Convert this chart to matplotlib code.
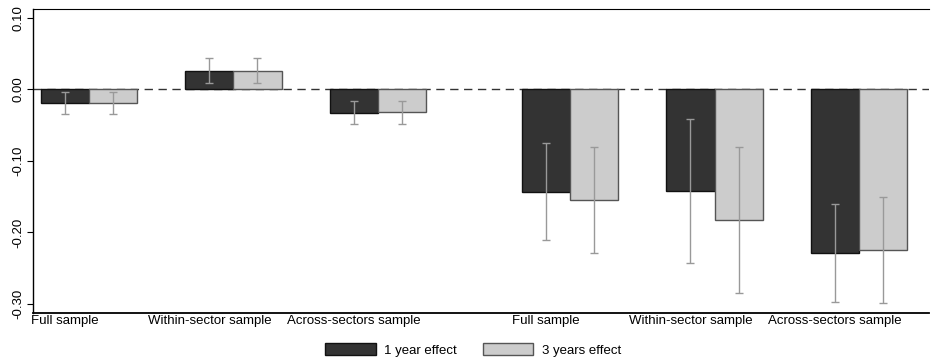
import numpy as np
import matplotlib.pyplot as plt

plt.rcParams['font.family'] = ['Liberation Sans', 'DejaVu Sans']

# Data
samples = ['Full sample', 'Within-sector sample', 'Across-sectors sample',
           'Full sample', 'Within-sector sample', 'Across-sectors sample']
effect_1y = [-0.019, 0.026, -0.033, -0.143, -0.142, -0.228]
lo_1y = [-0.034, 0.008, -0.049, -0.211, -0.242, -0.297]
hi_1y = [-0.004, 0.043, -0.017, -0.075, -0.042, -0.160]
effect_3y = [-0.019, 0.026, -0.032, -0.154, -0.182, -0.225]
lo_3y = [-0.034, 0.009, -0.048, -0.228, -0.284, -0.298]
hi_3y = [-0.004, 0.044, -0.017, -0.080, -0.080, -0.150]

# layout: groups of two bars, extra gap between the two halves
group_left = np.array([0, 3, 6, 10, 13, 16])

fig = plt.figure(figsize=(9.31, 3.6), dpi=100)
ax = fig.add_axes([0.0354, 0.1314, 0.9626, 0.8436])

x1 = group_left + 0.5
x3 = group_left + 1.5
ax.axhline(0, color='#333333', lw=1, ls=(0, (6, 4)), zorder=1)

b1 = ax.bar(x1, effect_1y, width=1, color='#333333', edgecolor='#111111', lw=1, zorder=2,
            label='1 year effect')
b3 = ax.bar(x3, effect_3y, width=1, color='#cccccc', edgecolor='#555555', lw=1, zorder=2,
            label='3 years effect')

e1 = np.array(effect_1y)
e3 = np.array(effect_3y)
ax.errorbar(x1, e1, yerr=[e1 - np.array(lo_1y), np.array(hi_1y) - e1], fmt='none',
            ecolor='#999999', elinewidth=1, capsize=3, capthick=1, zorder=3)
ax.errorbar(x3, e3, yerr=[e3 - np.array(lo_3y), np.array(hi_3y) - e3], fmt='none',
            ecolor='#999999', elinewidth=1, capsize=3, capthick=1, zorder=3)

ax.set_xlim(-0.166, 18.46)
ax.set_ylim(-0.312, 0.112)
ax.set_yticks([0.10, 0.00, -0.10, -0.20, -0.30])
ax.set_yticklabels(['0.10', '0.00', '-0.10', '-0.20', '-0.30'], rotation=90, va='center')
ax.tick_params(axis='y', labelsize=9.5, length=4, width=0.8, pad=2)
ax.set_xticks(x1)
ax.set_xticklabels(samples)
ax.tick_params(axis='x', labelsize=9.5, length=0, pad=1.5)

ax.spines['right'].set_visible(False)
ax.spines['top'].set_linewidth(0.8)
ax.spines['left'].set_linewidth(1)
ax.spines['bottom'].set_linewidth(1.3)

fig.legend(handles=[b1, b3], loc='center', bbox_to_anchor=(0.5085, 0.0278), ncol=2,
           frameon=False, fontsize=9.5, handlelength=3.8, handleheight=1.0,
           handletextpad=0.66, columnspacing=2.0)

fig.savefig('out.png', dpi=100)
